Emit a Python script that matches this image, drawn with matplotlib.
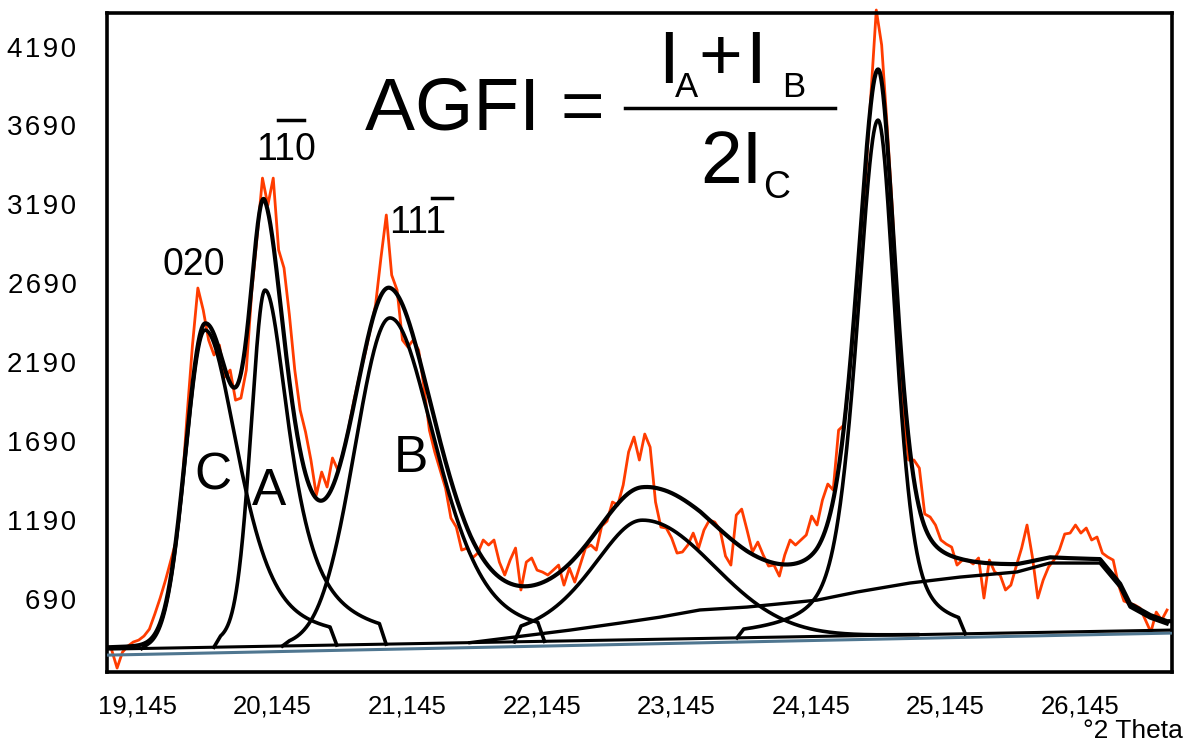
import numpy as np
import matplotlib
matplotlib.use("Agg")
import matplotlib.pyplot as plt
from matplotlib.lines import Line2D

plt.rcParams['font.family'] = ['Liberation Sans', 'DejaVu Sans']

W, H = 1185, 744

# measured scan (counts), fixed step in deg 2theta
SCAN_START = 18.95
SCAN_STEP = 0.04
counts = [363, 249, 350, 388, 414, 426, 452, 496, 591, 693,
          807, 934, 1061, 1365, 1853, 2297, 2659, 2519, 2329, 2234,
          2297, 2094, 2139, 1948, 1961, 2139, 2634, 2982, 3356, 3185,
          3356, 2900, 2786, 2488, 2139, 1885, 1746, 1568, 1346, 1492,
          1397, 1581, 1505, 1619, 1771, 1948, 2101, 2234, 2392, 2551,
          2849, 3122, 2741, 2646, 2329, 2285, 2329, 2266, 2030, 1758,
          1619, 1505, 1390, 1200, 1143, 997, 1010, 947, 978, 1061,
          1029, 1061, 921, 839, 934, 1010, 744, 921, 947, 870,
          858, 839, 870, 902, 775, 883, 794, 902, 1010, 1029,
          997, 1149, 1181, 1302, 1283, 1410, 1619, 1714, 1568, 1733,
          1650, 1302, 1143, 1137, 1073, 978, 985, 1029, 1105, 1010,
          1124, 1187, 1175, 1124, 959, 902, 1219, 1257, 1124, 985,
          1048, 966, 896, 902, 832, 966, 1061, 1029, 1061, 1093,
          1213, 1156, 1314, 1416, 1378, 1758, 1790, 2107, 2488, 2963,
          3344, 3883, 4422, 4200, 3693, 3153, 2469, 1885, 1568, 1568,
          1517, 1226, 1207, 1156, 1061, 1035, 1016, 902, 934, 934,
          909, 947, 693, 934, 858, 839, 744, 775, 896, 1010,
          1156, 953, 693, 807, 890, 934, 997, 1099, 1105, 1156,
          1105, 1137, 1061, 1080, 978, 953, 934, 775, 674, 661,
          649, 629, 553, 477, 604, 553, 617]

# fitted split pseudo-Voigt components (C=020, A=1-10, B=11-1, ...)
peak_pos = [19.643, 20.089, 21.017, 22.889, 24.643]
peak_height = [2012, 2259, 2068, 757, 3267]
hw_left = [0.17, 0.125, 0.305, 0.45, 0.186]
hw_right = [0.30, 0.223, 0.41, 0.63, 0.156]
eta_left = [0.0, 0.2, 0.0, 0.5, 0.5]
eta_right = [0.6, 0.9, 0.45, 0.0, 0.5]
# drawn extent of each component around its position
span_left = [0.42, 0.33, 0.75, 0.9, 1.0]
span_right = [0.93, 0.85, 1.1, 2.0, 0.6]

# linear background and broad hump above it
base_x = [18.915, 26.827]
base_y = [369, 490]
base2_y = [331, 471]
hump_x = [21.611, 22.354, 22.726, 23.023, 23.32, 23.669, 24.189, 24.487, 24.88,
          25.252, 25.675, 25.92, 26.292, 26.441, 26.515, 26.664, 26.79]
hump_y = [0, 68, 107, 140, 181, 194, 230, 277, 328,
          360, 386, 439, 433, 279, 151, 79, 39]

xticks = [19.145, 20.145, 21.145, 22.145, 23.145, 24.145, 25.145, 26.145]
yticks = [690, 1190, 1690, 2190, 2690, 3190, 3690, 4190]
XLIM = (18.915, 26.827)
YLIM = (224, 4403)

RED = '#ff3c00'
STEEL = '#4f7690'


def pv(x, c, h, wl, wr, el, er):
    w = np.where(x < c, wl, wr)
    e = np.where(x < c, el, er)
    u = (x - c) / w
    return h * (e / (1 + u ** 2) + (1 - e) * np.exp(-np.log(2) * u ** 2))


def fpos(px, py):
    return px / W, 1 - py / H


def bar(x0, x1, y):
    fig.add_artist(Line2D([x0 / W, x1 / W], [1 - y / H] * 2,
                          transform=fig.transFigure, color='k', lw=2.5))


fig = plt.figure(figsize=(W / 100, H / 100), dpi=100)
ax = fig.add_axes([107 / W, (H - 672) / H, (1172 - 107) / W, (672 - 13) / H])

two_theta = SCAN_START + SCAN_STEP * np.arange(len(counts))
ax.plot(two_theta, counts, color=RED, lw=2.0, clip_on=False, zorder=2)

x = np.linspace(XLIM[0], XLIM[1], 3000)
base = np.interp(x, base_x, base_y)
hump = np.interp(x, hump_x, hump_y, left=0, right=hump_y[-1])

ax.plot(base_x, base2_y, color=STEEL, lw=2.2, zorder=3)
ax.plot(base_x, base_y, color='k', lw=2.2, zorder=3)

HOOK = 0.05
total = base + hump
for i, c in enumerate(peak_pos):
    comp = pv(x, c, peak_height[i], hw_left[i], hw_right[i],
              eta_left[i], eta_right[i])
    total = total + comp
    m = (x > c - span_left[i]) & (x < c + span_right[i])
    xs, ys = x[m], base[m] + comp[m]
    # each component hooks back down onto the background at its ends
    x0, x1 = xs[0] - HOOK, xs[-1] + HOOK
    cx = np.concatenate([[x0], xs, [x1]])
    cy = np.concatenate([np.interp([x0], base_x, base_y), ys,
                         np.interp([x1], base_x, base_y)])
    ax.plot(cx, cy, color='k', lw=2.6, zorder=4)

ax.plot(hump_x, np.interp(hump_x, base_x, base_y) + np.array(hump_y),
        color='k', lw=2.4, zorder=4)
ax.plot(x, total, color='k', lw=3.0, zorder=5)

ax.set_xlim(*XLIM)
ax.set_ylim(*YLIM)
ax.set_xticks(xticks)
ax.set_xticklabels([f"{v:.3f}".replace('.', ',') for v in xticks])
ax.set_yticks(yticks)
ax.set_yticklabels(['\u200a'.join(str(v)) for v in yticks])
ax.tick_params(axis='x', length=0, pad=16, labelsize=18.5)
ax.tick_params(axis='y', length=0, pad=22, labelsize=20)
for s in ax.spines.values():
    s.set_linewidth(2.6)

fig.text(*fpos(1183, 738), "°2 Theta", ha='right', va='baseline', fontsize=19)

# AGFI = (I_A + I_B) / 2 I_C
fig.text(*fpos(365, 130), "AGFI =", fontsize=54, va='baseline')
fig.text(*fpos(658, 83), "I", fontsize=54, va='baseline')
fig.text(*fpos(675, 97), "A", fontsize=25, va='baseline')
fig.text(*fpos(720, 80), "+", fontsize=54, va='baseline', ha='center')
fig.text(*fpos(745, 83), "I", fontsize=54, va='baseline')
fig.text(*fpos(782, 97), "B", fontsize=25, va='baseline')
bar(625, 835, 108)
fig.text(*fpos(700, 183), "2I", fontsize=54, va='baseline')
fig.text(*fpos(763, 198), "C", fontsize=27, va='baseline')

# reflection labels
fig.text(*fpos(162, 275), "020", fontsize=27, va='baseline')
fig.text(*fpos(256, 160), "110", fontsize=27, va='baseline')
bar(278, 304, 120)
fig.text(*fpos(389, 233), "111", fontsize=27, va='baseline')
bar(432, 452, 198)

fig.text(*fpos(194, 490), "C", fontsize=37, va='baseline')
fig.text(*fpos(252, 505), "A", fontsize=37, va='baseline')
fig.text(*fpos(394, 472), "B", fontsize=37, va='baseline')

fig.savefig("out.png", dpi=100)
